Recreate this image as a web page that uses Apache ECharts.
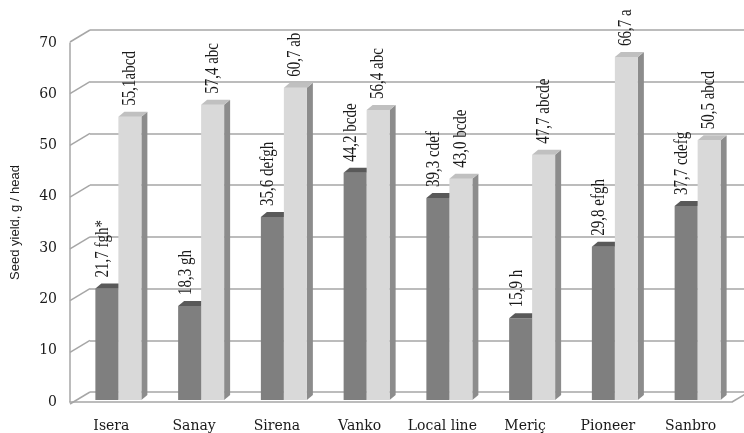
<!DOCTYPE html>
<html>
<head>
<meta charset="utf-8">
<script src="https://cdn.jsdelivr.net/npm/echarts@6/dist/echarts.min.js"></script>
<style>html,body{margin:0;padding:0;background:#fff;}#c{width:744px;height:433px;}</style>
</head>
<body>
<div id="c"></div>
<script>
const categories = ['Isera', 'Sanay', 'Sirena', 'Vanko', 'Local line', 'Meriç', 'Pioneer', 'Sanbro'];
const darkValues = [21.7, 18.3, 35.6, 44.2, 39.3, 15.9, 29.8, 37.7];
const darkLabels = ['21,7 fgh*', '18,3 gh', '35,6 defgh', '44,2 bcde', '39,3 cdef', '15,9 h', '29,8 efgh', '37,7 cdefg'];
const lightValues = [55.1, 57.4, 60.7, 56.4, 43.0, 47.7, 66.7, 50.5];
const lightLabels = ['55,1abcd', '57,4 abc', '60,7 ab', '56,4 abc', '43,0 bcde', '47,7 abcde', '66,7 a', '50,5 abcd'];
const yTicks = [0, 10, 20, 30, 40, 50, 60, 70];

const SERIF = '"Liberation Serif", "DejaVu Serif", serif';
const WIDE_SERIF = '"DejaVu Serif", serif';
const LINE = '#a6a6a6';
const W = 23, DX = 6, DY = 5;

function barItem(labels, colors, shift, labelDx) {
  return function (params, api) {
    const i = api.value(0), v = api.value(1);
    const top = api.coord([i, v]);
    const base = api.coord([i, 0]);
    const x = top[0] + shift * W;
    const yt = top[1], yb = base[1];
    return {
      type: 'group',
      children: [
        { type: 'polygon', shape: { points: [[x + W, yt], [x + W + DX, yt - DY], [x + W + DX, yb - DY], [x + W, yb]] }, style: { fill: colors.side } },
        { type: 'rect', shape: { x: x, y: yt, width: W, height: yb - yt }, style: { fill: colors.front } },
        { type: 'polygon', shape: { points: [[x, yt], [x + DX, yt - DY], [x + W + DX, yt - DY], [x + W, yt]] }, style: { fill: colors.top } },
        { type: 'text', x: x + W / 2 + labelDx, y: yt - DY - 6, rotation: Math.PI / 2, scaleY: 1.25,
          style: { text: labels[params.dataIndex], fill: '#1a1a1a', font: '15px ' + SERIF, align: 'left', verticalAlign: 'middle' } }
      ]
    };
  };
}

const chart = echarts.init(document.getElementById('c'));
chart.setOption({
  animation: false,
  grid: [
    { left: 90, right: 0, top: 30, bottom: 41 },   // back wall
    { left: 70, right: 12, top: 43, bottom: 30 },  // front axes
    { left: 77, right: 5, top: 40, bottom: 33 }    // bars plane
  ],
  xAxis: [
    { gridIndex: 0, type: 'category', data: categories, show: false },
    { gridIndex: 1, type: 'category', data: categories, axisTick: { show: false },
      axisLine: { lineStyle: { color: LINE, width: 1.5 } },
      axisLabel: { interval: 0, color: '#1a1a1a', fontFamily: WIDE_SERIF, fontSize: 14, margin: 17 } },
    { gridIndex: 2, type: 'category', data: categories, show: false }
  ],
  yAxis: [
    { gridIndex: 0, type: 'value', min: 0, max: 70, interval: 10, axisLabel: { show: false },
      axisLine: { show: false }, axisTick: { show: false },
      splitLine: { lineStyle: { color: LINE, width: 1.5 } } },
    { gridIndex: 1, type: 'value', min: 0, max: 70, interval: 10,
      name: 'Seed yield, g / head', nameLocation: 'middle', nameGap: 48,
      nameTextStyle: { color: '#1a1a1a', fontFamily: '"Liberation Sans", Arial, sans-serif', fontSize: 13 },
      axisLine: { show: true, lineStyle: { color: LINE, width: 1.5 } }, axisTick: { show: false },
      splitLine: { show: false },
      axisLabel: { color: '#1a1a1a', fontFamily: WIDE_SERIF, fontSize: 14, margin: 13 } },
    { gridIndex: 2, type: 'value', min: 0, max: 70, show: false }
  ],
  series: [
    { type: 'custom', xAxisIndex: 0, yAxisIndex: 0, silent: true,
      data: yTicks.map(t => [0, t]),
      renderItem: function (params, api) {
        const p = api.coord([0, api.value(1)]);
        const cs = params.coordSys;
        return { type: 'line', shape: { x1: cs.x - 20, y1: p[1] + 12, x2: cs.x, y2: p[1] },
          style: { stroke: LINE, lineWidth: 1.5 } };
      } },
    { type: 'custom', xAxisIndex: 1, yAxisIndex: 1, silent: true,
      data: [[0, 0]],
      renderItem: function (params, api) {
        const p = api.coord([0, 0]);
        const cs = params.coordSys;
        return { type: 'line', shape: { x1: cs.x + cs.width, y1: p[1], x2: cs.x + cs.width + 20, y2: p[1] - 12 },
          style: { stroke: LINE, lineWidth: 1.5 } };
      } },
    { type: 'custom', xAxisIndex: 2, yAxisIndex: 2, silent: true,
      data: darkValues.map((v, i) => [i, v]),
      renderItem: barItem(darkLabels, { front: '#7f7f7f', side: '#5a5a5a', top: '#595959' }, -1, -4) },
    { type: 'custom', xAxisIndex: 2, yAxisIndex: 2, silent: true,
      data: lightValues.map((v, i) => [i, v]),
      renderItem: barItem(lightLabels, { front: '#d9d9d9', side: '#8c8c8c', top: '#c0c0c0' }, 0, 0) }
  ]
});
</script>
</body>
</html>
